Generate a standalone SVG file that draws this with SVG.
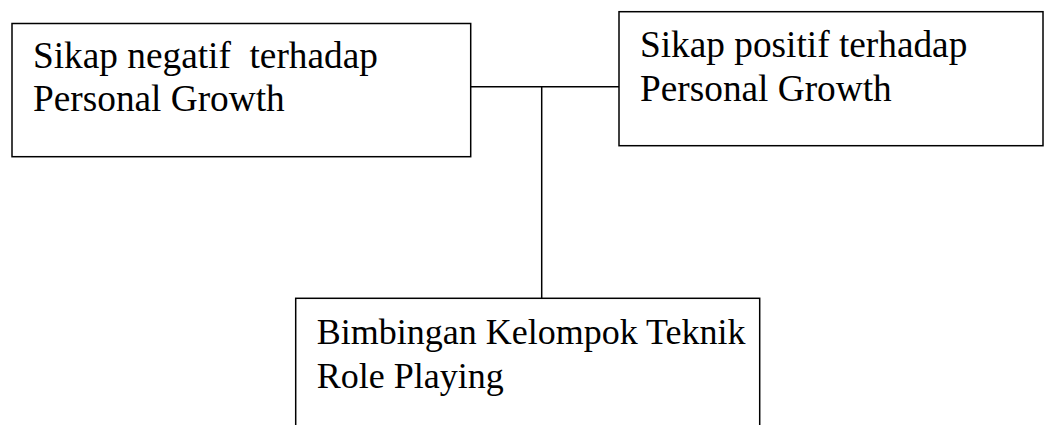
<svg xmlns="http://www.w3.org/2000/svg" width="1056" height="425" viewBox="0 0 1056 425">
<style>
.box{fill:#fff;stroke:#000;stroke-width:1.5}
.t{font-family:"Liberation Serif","Times New Roman",serif;font-size:37.3px;fill:#000;white-space:pre}
.s{font-size:36px}
.c{stroke:#000;stroke-width:1.5;fill:none}
</style>
<rect width="1056" height="425" fill="#fff"/>
<g id="connectors">
<line class="c" x1="470.7" y1="86.7" x2="619" y2="86.7"/>
<line class="c" x1="541.7" y1="86.7" x2="541.7" y2="298.3"/>
</g>
<g id="node-negatif">
<rect class="box" x="12" y="23.5" width="458.7" height="133.2"/>
<text class="t" x="33" y="67.5" xml:space="preserve">Sikap negatif  terhadap</text>
<text class="t" x="33" y="111">Personal Growth</text>
</g>
<g id="node-positif">
<rect class="box" x="619" y="11.7" width="424" height="134"/>
<text class="t" x="640" y="57">Sikap positif terhadap</text>
<text class="t" x="640" y="100.5">Personal Growth</text>
</g>
<g id="node-bimbingan">
<rect class="box" x="295.7" y="298.3" width="464" height="140"/>
<text class="t s" x="316.7" y="344">Bimbingan Kelompok Teknik</text>
<text class="t s" x="316.7" y="388">Role Playing</text>
</g>
</svg>
